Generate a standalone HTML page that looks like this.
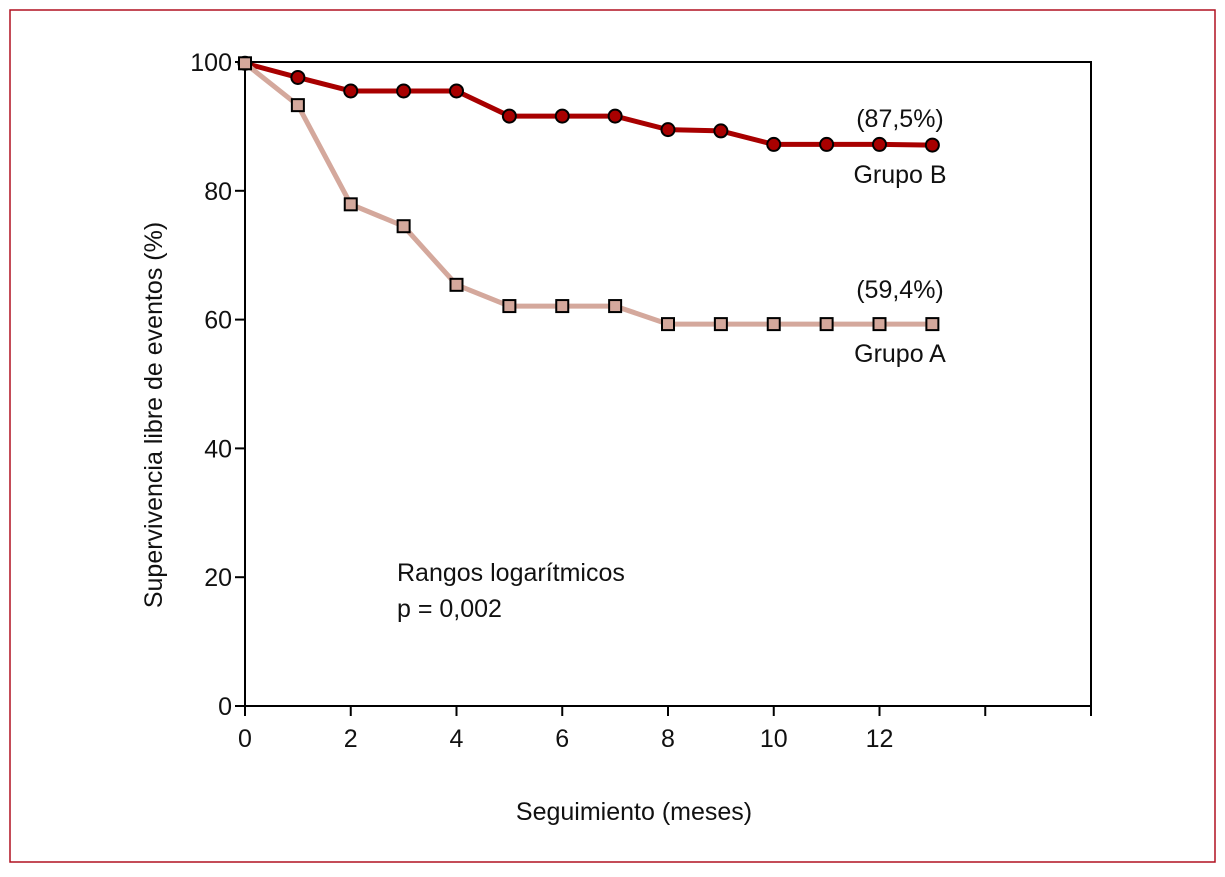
<!DOCTYPE html>
<html><head><meta charset="utf-8"><style>
body{margin:0;background:#fff;}
svg text{font-family:"Liberation Sans Narrow","Liberation Sans",sans-serif;fill:#111;}
</style></head><body>
<svg width="1225" height="872">
<rect x="10" y="10" width="1205" height="852" fill="none" stroke="#b01020" stroke-width="1.5"/>
<g id="axes"></g>
<g id="series"></g>
<text x="900" y="127" font-size="25" text-anchor="middle">(87,5%)</text>
<text x="900" y="183" font-size="25" text-anchor="middle">Grupo B</text>
<text x="900" y="298" font-size="25" text-anchor="middle">(59,4%)</text>
<text x="900" y="362" font-size="25" text-anchor="middle">Grupo A</text>
<text x="397" y="581" font-size="25">Rangos logarítmicos</text>
<text x="397" y="617" font-size="25">p = 0,002</text>
<text x="634" y="820" font-size="25" text-anchor="middle">Seguimiento (meses)</text>
<text transform="translate(162,415) rotate(-90)" font-size="25" text-anchor="middle">Supervivencia libre de eventos (%)</text>
</svg>
<script>
const months=[0,1,2,3,4,5,6,7,8,9,10,11,12,13];
const groupB=[99.8,97.6,95.5,95.5,95.5,91.6,91.6,91.6,89.5,89.3,87.2,87.2,87.2,87.1];
const groupA=[99.8,93.3,77.9,74.5,65.4,62.1,62.1,62.1,59.3,59.3,59.3,59.3,59.3,59.3];
const xTicks=[0,2,4,6,8,10,12,14,16];
const xTickLabels=["0","2","4","6","8","10","12","",""];
const yTicks=[0,20,40,60,80,100];
const NS="http://www.w3.org/2000/svg";
const X=v=>245+v*(1091-245)/16;
const Y=v=>706-v*(706-62)/100;
function mk(t,a,p){const e=document.createElementNS(NS,t);for(const k in a)e.setAttribute(k,a[k]);p.appendChild(e);return e;}
const ax=document.getElementById('axes');
let b=mk('path',{d:`M${X(0)},${Y(0)} V${Y(100)} H${X(16)} V${Y(0)} H${X(0)}`,fill:'none',stroke:'#000','stroke-width':2},ax);


xTicks.forEach((t,i)=>{
 const l=mk('line',{x1:X(t),x2:X(t),y1:Y(0),y2:Y(0)+10,stroke:'#000','stroke-width':2},ax);
 
 
 if(xTickLabels[i]){const tx=mk('text',{x:X(t),y:Y(0)+41,'font-size':25,'text-anchor':'middle'},ax);tx.textContent=xTickLabels[i];
 
 }
});
yTicks.forEach(t=>{
 const l=mk('line',{x1:X(0)-10,x2:X(0),y1:Y(t),y2:Y(t),stroke:'#000','stroke-width':2},ax);
 
 
 const tx=mk('text',{x:X(0)-13,y:Y(t)+9,'font-size':25,'text-anchor':'end'},ax);tx.textContent=t;
 
 
});
const sg=document.getElementById('series');
function series(vals,color,name,shape){
 const pl=mk('polyline',{points:months.map((m,i)=>X(m)+','+Y(vals[i])).join(' '),fill:'none',stroke:color,'stroke-width':5,'stroke-linejoin':'round'},sg);
 
 
 months.forEach((m,i)=>{
  let e;
  if(shape==='c') e=mk('circle',{cx:X(m),cy:Y(vals[i]),r:6.5,fill:color,stroke:'#000','stroke-width':2},sg);
  else e=mk('rect',{x:X(m)-6,y:Y(vals[i])-6,width:12,height:12,fill:color,stroke:'#000','stroke-width':2},sg);
  
  
 });
}
series(groupB,'#a80000','group-b','c');
series(groupA,'#d4a89c','group-a','s');
</script>
</body></html>
